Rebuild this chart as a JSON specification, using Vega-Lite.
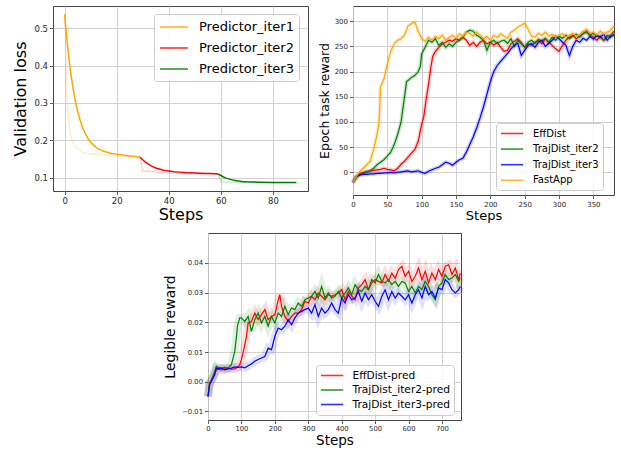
{
"$schema": "https://vega.github.io/schema/vega-lite/v6.json",
"padding": {"left": 12, "top": 5, "right": 2, "bottom": 2},
"background": "white",
"config": {
  "font": "DejaVu Sans",
  "view": {"stroke": "#444", "strokeWidth": 1},
  "axis": {"grid": true, "gridColor": "#cccccc", "gridWidth": 0.9, "domain": false, "tickColor": "#333", "tickSize": 3.5, "tickWidth": 0.8, "labelColor": "#262626", "titleColor": "#000", "titleFontWeight": "normal", "labelFont": "DejaVu Sans", "titleFont": "DejaVu Sans", "labelFlush": false, "labelOverlap": false},
  "legend": {"title": null, "orient": "none", "symbolType": "M-1,0H3", "fillColor": "rgba(255,255,255,0.85)", "strokeColor": "#cccccc", "cornerRadius": 3, "labelFont": "DejaVu Sans", "labelColor": "#000", "symbolStrokeWidth": 1.6, "symbolOpacity": 0.8}
},
"datasets": {
"p1": [
{"s":"Predictor_iter1","k":"raw","x":0,"y":0.537},{"s":"Predictor_iter1","k":"raw","x":1,"y":0.29},{"s":"Predictor_iter1","k":"raw","x":2,"y":0.225},{"s":"Predictor_iter1","k":"raw","x":3,"y":0.198},{"s":"Predictor_iter1","k":"raw","x":4,"y":0.185},{"s":"Predictor_iter1","k":"raw","x":5,"y":0.178},{"s":"Predictor_iter1","k":"raw","x":6,"y":0.172},{"s":"Predictor_iter1","k":"raw","x":7,"y":0.168},{"s":"Predictor_iter1","k":"raw","x":8,"y":0.166},{"s":"Predictor_iter1","k":"raw","x":9,"y":0.164},{"s":"Predictor_iter1","k":"raw","x":10,"y":0.163},{"s":"Predictor_iter1","k":"raw","x":11,"y":0.164},{"s":"Predictor_iter1","k":"raw","x":12,"y":0.162},{"s":"Predictor_iter1","k":"raw","x":13,"y":0.165},{"s":"Predictor_iter1","k":"raw","x":14,"y":0.161},{"s":"Predictor_iter1","k":"raw","x":15,"y":0.16},{"s":"Predictor_iter1","k":"raw","x":16,"y":0.161},{"s":"Predictor_iter1","k":"raw","x":17,"y":0.159},{"s":"Predictor_iter1","k":"raw","x":18,"y":0.16},{"s":"Predictor_iter1","k":"raw","x":19,"y":0.158},{"s":"Predictor_iter1","k":"raw","x":20,"y":0.159},{"s":"Predictor_iter1","k":"raw","x":21,"y":0.158},{"s":"Predictor_iter1","k":"raw","x":22,"y":0.157},{"s":"Predictor_iter1","k":"raw","x":23,"y":0.158},{"s":"Predictor_iter1","k":"raw","x":24,"y":0.156},{"s":"Predictor_iter1","k":"raw","x":25,"y":0.157},{"s":"Predictor_iter1","k":"raw","x":26,"y":0.156},{"s":"Predictor_iter1","k":"raw","x":27,"y":0.155},{"s":"Predictor_iter1","k":"raw","x":28,"y":0.155},{"s":"Predictor_iter1","k":"raw","x":29,"y":0.155},
{"s":"Predictor_iter2","k":"raw","x":29,"y":0.155},{"s":"Predictor_iter2","k":"raw","x":30,"y":0.118},{"s":"Predictor_iter2","k":"raw","x":31,"y":0.117},{"s":"Predictor_iter2","k":"raw","x":32,"y":0.119},{"s":"Predictor_iter2","k":"raw","x":33,"y":0.116},{"s":"Predictor_iter2","k":"raw","x":34,"y":0.117},{"s":"Predictor_iter2","k":"raw","x":35,"y":0.115},{"s":"Predictor_iter2","k":"raw","x":36,"y":0.114},{"s":"Predictor_iter2","k":"raw","x":37,"y":0.115},{"s":"Predictor_iter2","k":"raw","x":38,"y":0.113},{"s":"Predictor_iter2","k":"raw","x":40,"y":0.113},{"s":"Predictor_iter2","k":"raw","x":42,"y":0.112},{"s":"Predictor_iter2","k":"raw","x":44,"y":0.112},{"s":"Predictor_iter2","k":"raw","x":46,"y":0.111},{"s":"Predictor_iter2","k":"raw","x":48,"y":0.111},{"s":"Predictor_iter2","k":"raw","x":50,"y":0.111},{"s":"Predictor_iter2","k":"raw","x":52,"y":0.110},{"s":"Predictor_iter2","k":"raw","x":54,"y":0.110},{"s":"Predictor_iter2","k":"raw","x":55,"y":0.112},{"s":"Predictor_iter2","k":"raw","x":56,"y":0.110},{"s":"Predictor_iter2","k":"raw","x":58,"y":0.110},{"s":"Predictor_iter2","k":"raw","x":59,"y":0.110},
{"s":"Predictor_iter3","k":"raw","x":59,"y":0.110},{"s":"Predictor_iter3","k":"raw","x":60,"y":0.089},{"s":"Predictor_iter3","k":"raw","x":62,"y":0.088},{"s":"Predictor_iter3","k":"raw","x":65,"y":0.088},{"s":"Predictor_iter3","k":"raw","x":70,"y":0.087},{"s":"Predictor_iter3","k":"raw","x":75,"y":0.087},{"s":"Predictor_iter3","k":"raw","x":80,"y":0.087},{"s":"Predictor_iter3","k":"raw","x":85,"y":0.0868},{"s":"Predictor_iter3","k":"raw","x":89,"y":0.0868},
{"s":"Predictor_iter1","k":"sm","x":0,"y":0.537},{"s":"Predictor_iter1","k":"sm","x":1,"y":0.462},{"s":"Predictor_iter1","k":"sm","x":2,"y":0.400},{"s":"Predictor_iter1","k":"sm","x":3,"y":0.350},{"s":"Predictor_iter1","k":"sm","x":4,"y":0.310},{"s":"Predictor_iter1","k":"sm","x":5,"y":0.278},{"s":"Predictor_iter1","k":"sm","x":6,"y":0.253},{"s":"Predictor_iter1","k":"sm","x":7,"y":0.233},{"s":"Predictor_iter1","k":"sm","x":8,"y":0.217},{"s":"Predictor_iter1","k":"sm","x":9,"y":0.205},{"s":"Predictor_iter1","k":"sm","x":10,"y":0.195},{"s":"Predictor_iter1","k":"sm","x":11,"y":0.188},{"s":"Predictor_iter1","k":"sm","x":12,"y":0.182},{"s":"Predictor_iter1","k":"sm","x":13,"y":0.177},{"s":"Predictor_iter1","k":"sm","x":14,"y":0.174},{"s":"Predictor_iter1","k":"sm","x":15,"y":0.171},{"s":"Predictor_iter1","k":"sm","x":16,"y":0.169},{"s":"Predictor_iter1","k":"sm","x":17,"y":0.167},{"s":"Predictor_iter1","k":"sm","x":18,"y":0.165},{"s":"Predictor_iter1","k":"sm","x":19,"y":0.164},{"s":"Predictor_iter1","k":"sm","x":20,"y":0.163},{"s":"Predictor_iter1","k":"sm","x":21,"y":0.162},{"s":"Predictor_iter1","k":"sm","x":22,"y":0.161},{"s":"Predictor_iter1","k":"sm","x":23,"y":0.160},{"s":"Predictor_iter1","k":"sm","x":24,"y":0.159},{"s":"Predictor_iter1","k":"sm","x":25,"y":0.158},{"s":"Predictor_iter1","k":"sm","x":26,"y":0.158},{"s":"Predictor_iter1","k":"sm","x":27,"y":0.157},{"s":"Predictor_iter1","k":"sm","x":28,"y":0.156},{"s":"Predictor_iter1","k":"sm","x":29,"y":0.155},
{"s":"Predictor_iter2","k":"sm","x":29,"y":0.155},{"s":"Predictor_iter2","k":"sm","x":30,"y":0.148},{"s":"Predictor_iter2","k":"sm","x":31,"y":0.142},{"s":"Predictor_iter2","k":"sm","x":32,"y":0.137},{"s":"Predictor_iter2","k":"sm","x":33,"y":0.133},{"s":"Predictor_iter2","k":"sm","x":34,"y":0.129},{"s":"Predictor_iter2","k":"sm","x":35,"y":0.126},{"s":"Predictor_iter2","k":"sm","x":36,"y":0.124},{"s":"Predictor_iter2","k":"sm","x":37,"y":0.122},{"s":"Predictor_iter2","k":"sm","x":38,"y":0.120},{"s":"Predictor_iter2","k":"sm","x":39,"y":0.119},{"s":"Predictor_iter2","k":"sm","x":40,"y":0.118},{"s":"Predictor_iter2","k":"sm","x":42,"y":0.116},{"s":"Predictor_iter2","k":"sm","x":44,"y":0.115},{"s":"Predictor_iter2","k":"sm","x":46,"y":0.114},{"s":"Predictor_iter2","k":"sm","x":48,"y":0.113},{"s":"Predictor_iter2","k":"sm","x":50,"y":0.1125},{"s":"Predictor_iter2","k":"sm","x":52,"y":0.112},{"s":"Predictor_iter2","k":"sm","x":54,"y":0.1115},{"s":"Predictor_iter2","k":"sm","x":56,"y":0.111},{"s":"Predictor_iter2","k":"sm","x":58,"y":0.1105},{"s":"Predictor_iter2","k":"sm","x":59,"y":0.110},
{"s":"Predictor_iter3","k":"sm","x":59,"y":0.110},{"s":"Predictor_iter3","k":"sm","x":60,"y":0.106},{"s":"Predictor_iter3","k":"sm","x":61,"y":0.102},{"s":"Predictor_iter3","k":"sm","x":62,"y":0.099},{"s":"Predictor_iter3","k":"sm","x":63,"y":0.097},{"s":"Predictor_iter3","k":"sm","x":64,"y":0.095},{"s":"Predictor_iter3","k":"sm","x":65,"y":0.093},{"s":"Predictor_iter3","k":"sm","x":66,"y":0.092},{"s":"Predictor_iter3","k":"sm","x":67,"y":0.091},{"s":"Predictor_iter3","k":"sm","x":68,"y":0.090},{"s":"Predictor_iter3","k":"sm","x":70,"y":0.089},{"s":"Predictor_iter3","k":"sm","x":72,"y":0.0885},{"s":"Predictor_iter3","k":"sm","x":75,"y":0.088},{"s":"Predictor_iter3","k":"sm","x":80,"y":0.0875},{"s":"Predictor_iter3","k":"sm","x":85,"y":0.087},{"s":"Predictor_iter3","k":"sm","x":89,"y":0.087}
],
"p2": [
{"s":"EffDist","x":0,"y":-20},{"s":"EffDist","x":5,"y":-8},{"s":"EffDist","x":10,"y":-2},{"s":"EffDist","x":15,"y":0},{"s":"EffDist","x":20,"y":2},{"s":"EffDist","x":25,"y":3},{"s":"EffDist","x":30,"y":4},{"s":"EffDist","x":35,"y":5},{"s":"EffDist","x":40,"y":6},{"s":"EffDist","x":45,"y":8},{"s":"EffDist","x":50,"y":6},{"s":"EffDist","x":55,"y":5},{"s":"EffDist","x":60,"y":3},{"s":"EffDist","x":65,"y":8},{"s":"EffDist","x":70,"y":16},{"s":"EffDist","x":75,"y":22},{"s":"EffDist","x":80,"y":30},{"s":"EffDist","x":85,"y":38},{"s":"EffDist","x":90,"y":45},{"s":"EffDist","x":95,"y":62},{"s":"EffDist","x":100,"y":95},{"s":"EffDist","x":103,"y":110},{"s":"EffDist","x":106,"y":140},{"s":"EffDist","x":110,"y":175},{"s":"EffDist","x":113,"y":205},{"s":"EffDist","x":116,"y":230},{"s":"EffDist","x":120,"y":240},{"s":"EffDist","x":125,"y":248},{"s":"EffDist","x":130,"y":255},{"s":"EffDist","x":135,"y":258},{"s":"EffDist","x":140,"y":262},{"s":"EffDist","x":145,"y":260},{"s":"EffDist","x":150,"y":265},{"s":"EffDist","x":155,"y":262},{"s":"EffDist","x":160,"y":268},{"s":"EffDist","x":165,"y":262},{"s":"EffDist","x":170,"y":252},{"s":"EffDist","x":175,"y":258},{"s":"EffDist","x":180,"y":250},{"s":"EffDist","x":185,"y":258},{"s":"EffDist","x":190,"y":262},{"s":"EffDist","x":195,"y":255},{"s":"EffDist","x":200,"y":258},{"s":"EffDist","x":205,"y":252},{"s":"EffDist","x":210,"y":258},{"s":"EffDist","x":215,"y":248},{"s":"EffDist","x":220,"y":240},{"s":"EffDist","x":225,"y":242},{"s":"EffDist","x":230,"y":255},{"s":"EffDist","x":235,"y":260},{"s":"EffDist","x":240,"y":265},{"s":"EffDist","x":245,"y":258},{"s":"EffDist","x":250,"y":248},{"s":"EffDist","x":255,"y":255},{"s":"EffDist","x":260,"y":252},{"s":"EffDist","x":265,"y":258},{"s":"EffDist","x":270,"y":262},{"s":"EffDist","x":275,"y":255},{"s":"EffDist","x":280,"y":265},{"s":"EffDist","x":285,"y":258},{"s":"EffDist","x":290,"y":252},{"s":"EffDist","x":295,"y":245},{"s":"EffDist","x":300,"y":240},{"s":"EffDist","x":305,"y":252},{"s":"EffDist","x":310,"y":262},{"s":"EffDist","x":315,"y":268},{"s":"EffDist","x":320,"y":272},{"s":"EffDist","x":325,"y":265},{"s":"EffDist","x":330,"y":270},{"s":"EffDist","x":335,"y":275},{"s":"EffDist","x":340,"y":280},{"s":"EffDist","x":345,"y":272},{"s":"EffDist","x":350,"y":268},{"s":"EffDist","x":355,"y":262},{"s":"EffDist","x":360,"y":270},{"s":"EffDist","x":365,"y":262},{"s":"EffDist","x":370,"y":268},{"s":"EffDist","x":375,"y":272},{"s":"EffDist","x":380,"y":280},
{"s":"TrajDist_iter2","x":0,"y":-20},{"s":"TrajDist_iter2","x":5,"y":-10},{"s":"TrajDist_iter2","x":10,"y":-5},{"s":"TrajDist_iter2","x":15,"y":-2},{"s":"TrajDist_iter2","x":20,"y":0},{"s":"TrajDist_iter2","x":25,"y":3},{"s":"TrajDist_iter2","x":30,"y":8},{"s":"TrajDist_iter2","x":35,"y":15},{"s":"TrajDist_iter2","x":40,"y":20},{"s":"TrajDist_iter2","x":45,"y":25},{"s":"TrajDist_iter2","x":50,"y":32},{"s":"TrajDist_iter2","x":55,"y":40},{"s":"TrajDist_iter2","x":60,"y":55},{"s":"TrajDist_iter2","x":65,"y":75},{"s":"TrajDist_iter2","x":70,"y":100},{"s":"TrajDist_iter2","x":72,"y":120},{"s":"TrajDist_iter2","x":75,"y":150},{"s":"TrajDist_iter2","x":78,"y":180},{"s":"TrajDist_iter2","x":80,"y":182},{"s":"TrajDist_iter2","x":85,"y":188},{"s":"TrajDist_iter2","x":90,"y":192},{"s":"TrajDist_iter2","x":95,"y":200},{"s":"TrajDist_iter2","x":98,"y":210},{"s":"TrajDist_iter2","x":100,"y":235},{"s":"TrajDist_iter2","x":105,"y":248},{"s":"TrajDist_iter2","x":110,"y":262},{"s":"TrajDist_iter2","x":115,"y":258},{"s":"TrajDist_iter2","x":120,"y":265},{"s":"TrajDist_iter2","x":125,"y":252},{"s":"TrajDist_iter2","x":130,"y":258},{"s":"TrajDist_iter2","x":135,"y":248},{"s":"TrajDist_iter2","x":140,"y":255},{"s":"TrajDist_iter2","x":145,"y":250},{"s":"TrajDist_iter2","x":150,"y":258},{"s":"TrajDist_iter2","x":155,"y":262},{"s":"TrajDist_iter2","x":160,"y":268},{"s":"TrajDist_iter2","x":165,"y":278},{"s":"TrajDist_iter2","x":170,"y":282},{"s":"TrajDist_iter2","x":175,"y":280},{"s":"TrajDist_iter2","x":180,"y":272},{"s":"TrajDist_iter2","x":185,"y":268},{"s":"TrajDist_iter2","x":190,"y":262},{"s":"TrajDist_iter2","x":195,"y":242},{"s":"TrajDist_iter2","x":200,"y":258},{"s":"TrajDist_iter2","x":205,"y":262},{"s":"TrajDist_iter2","x":210,"y":255},{"s":"TrajDist_iter2","x":215,"y":260},{"s":"TrajDist_iter2","x":220,"y":262},{"s":"TrajDist_iter2","x":225,"y":256},{"s":"TrajDist_iter2","x":230,"y":265},{"s":"TrajDist_iter2","x":235,"y":250},{"s":"TrajDist_iter2","x":240,"y":262},{"s":"TrajDist_iter2","x":245,"y":255},{"s":"TrajDist_iter2","x":250,"y":248},{"s":"TrajDist_iter2","x":255,"y":258},{"s":"TrajDist_iter2","x":260,"y":262},{"s":"TrajDist_iter2","x":265,"y":256},{"s":"TrajDist_iter2","x":270,"y":264},{"s":"TrajDist_iter2","x":275,"y":260},{"s":"TrajDist_iter2","x":280,"y":266},{"s":"TrajDist_iter2","x":285,"y":258},{"s":"TrajDist_iter2","x":290,"y":268},{"s":"TrajDist_iter2","x":295,"y":262},{"s":"TrajDist_iter2","x":300,"y":270},{"s":"TrajDist_iter2","x":305,"y":266},{"s":"TrajDist_iter2","x":310,"y":272},{"s":"TrajDist_iter2","x":315,"y":265},{"s":"TrajDist_iter2","x":320,"y":270},{"s":"TrajDist_iter2","x":325,"y":274},{"s":"TrajDist_iter2","x":330,"y":268},{"s":"TrajDist_iter2","x":335,"y":276},{"s":"TrajDist_iter2","x":340,"y":278},{"s":"TrajDist_iter2","x":345,"y":272},{"s":"TrajDist_iter2","x":350,"y":276},{"s":"TrajDist_iter2","x":355,"y":270},{"s":"TrajDist_iter2","x":360,"y":268},{"s":"TrajDist_iter2","x":365,"y":262},{"s":"TrajDist_iter2","x":370,"y":272},{"s":"TrajDist_iter2","x":375,"y":268},{"s":"TrajDist_iter2","x":380,"y":275},
{"s":"TrajDist_iter3","x":0,"y":-20},{"s":"TrajDist_iter3","x":5,"y":-8},{"s":"TrajDist_iter3","x":10,"y":-5},{"s":"TrajDist_iter3","x":15,"y":-4},{"s":"TrajDist_iter3","x":20,"y":-4},{"s":"TrajDist_iter3","x":25,"y":-3},{"s":"TrajDist_iter3","x":30,"y":-3},{"s":"TrajDist_iter3","x":35,"y":-2},{"s":"TrajDist_iter3","x":40,"y":-2},{"s":"TrajDist_iter3","x":45,"y":-1},{"s":"TrajDist_iter3","x":50,"y":-1},{"s":"TrajDist_iter3","x":55,"y":0},{"s":"TrajDist_iter3","x":60,"y":-1},{"s":"TrajDist_iter3","x":65,"y":0},{"s":"TrajDist_iter3","x":70,"y":1},{"s":"TrajDist_iter3","x":75,"y":2},{"s":"TrajDist_iter3","x":80,"y":3},{"s":"TrajDist_iter3","x":85,"y":1},{"s":"TrajDist_iter3","x":90,"y":2},{"s":"TrajDist_iter3","x":95,"y":3},{"s":"TrajDist_iter3","x":100,"y":0},{"s":"TrajDist_iter3","x":105,"y":-2},{"s":"TrajDist_iter3","x":110,"y":2},{"s":"TrajDist_iter3","x":115,"y":5},{"s":"TrajDist_iter3","x":120,"y":8},{"s":"TrajDist_iter3","x":125,"y":10},{"s":"TrajDist_iter3","x":130,"y":15},{"s":"TrajDist_iter3","x":135,"y":20},{"s":"TrajDist_iter3","x":140,"y":18},{"s":"TrajDist_iter3","x":145,"y":14},{"s":"TrajDist_iter3","x":150,"y":20},{"s":"TrajDist_iter3","x":155,"y":25},{"s":"TrajDist_iter3","x":160,"y":28},{"s":"TrajDist_iter3","x":165,"y":40},{"s":"TrajDist_iter3","x":170,"y":55},{"s":"TrajDist_iter3","x":175,"y":70},{"s":"TrajDist_iter3","x":180,"y":88},{"s":"TrajDist_iter3","x":185,"y":108},{"s":"TrajDist_iter3","x":190,"y":130},{"s":"TrajDist_iter3","x":195,"y":155},{"s":"TrajDist_iter3","x":200,"y":180},{"s":"TrajDist_iter3","x":205,"y":200},{"s":"TrajDist_iter3","x":210,"y":212},{"s":"TrajDist_iter3","x":215,"y":220},{"s":"TrajDist_iter3","x":220,"y":228},{"s":"TrajDist_iter3","x":225,"y":236},{"s":"TrajDist_iter3","x":230,"y":245},{"s":"TrajDist_iter3","x":235,"y":252},{"s":"TrajDist_iter3","x":240,"y":256},{"s":"TrajDist_iter3","x":245,"y":232},{"s":"TrajDist_iter3","x":250,"y":242},{"s":"TrajDist_iter3","x":255,"y":252},{"s":"TrajDist_iter3","x":260,"y":255},{"s":"TrajDist_iter3","x":265,"y":248},{"s":"TrajDist_iter3","x":270,"y":258},{"s":"TrajDist_iter3","x":275,"y":262},{"s":"TrajDist_iter3","x":280,"y":250},{"s":"TrajDist_iter3","x":285,"y":256},{"s":"TrajDist_iter3","x":290,"y":262},{"s":"TrajDist_iter3","x":295,"y":270},{"s":"TrajDist_iter3","x":300,"y":265},{"s":"TrajDist_iter3","x":305,"y":258},{"s":"TrajDist_iter3","x":310,"y":252},{"s":"TrajDist_iter3","x":315,"y":232},{"s":"TrajDist_iter3","x":320,"y":250},{"s":"TrajDist_iter3","x":325,"y":262},{"s":"TrajDist_iter3","x":330,"y":258},{"s":"TrajDist_iter3","x":335,"y":266},{"s":"TrajDist_iter3","x":340,"y":262},{"s":"TrajDist_iter3","x":345,"y":270},{"s":"TrajDist_iter3","x":350,"y":264},{"s":"TrajDist_iter3","x":355,"y":272},{"s":"TrajDist_iter3","x":360,"y":268},{"s":"TrajDist_iter3","x":365,"y":274},{"s":"TrajDist_iter3","x":370,"y":262},{"s":"TrajDist_iter3","x":375,"y":270},{"s":"TrajDist_iter3","x":380,"y":272},
{"s":"FastApp","x":0,"y":-20},{"s":"FastApp","x":5,"y":-8},{"s":"FastApp","x":10,"y":2},{"s":"FastApp","x":15,"y":8},{"s":"FastApp","x":20,"y":15},{"s":"FastApp","x":25,"y":22},{"s":"FastApp","x":30,"y":45},{"s":"FastApp","x":35,"y":75},{"s":"FastApp","x":38,"y":100},{"s":"FastApp","x":40,"y":170},{"s":"FastApp","x":45,"y":185},{"s":"FastApp","x":50,"y":215},{"s":"FastApp","x":55,"y":240},{"s":"FastApp","x":60,"y":255},{"s":"FastApp","x":65,"y":262},{"s":"FastApp","x":70,"y":265},{"s":"FastApp","x":75,"y":272},{"s":"FastApp","x":80,"y":290},{"s":"FastApp","x":85,"y":295},{"s":"FastApp","x":90,"y":298},{"s":"FastApp","x":95,"y":280},{"s":"FastApp","x":100,"y":265},{"s":"FastApp","x":105,"y":260},{"s":"FastApp","x":110,"y":268},{"s":"FastApp","x":115,"y":262},{"s":"FastApp","x":120,"y":270},{"s":"FastApp","x":125,"y":265},{"s":"FastApp","x":130,"y":272},{"s":"FastApp","x":135,"y":262},{"s":"FastApp","x":140,"y":268},{"s":"FastApp","x":145,"y":272},{"s":"FastApp","x":150,"y":266},{"s":"FastApp","x":155,"y":275},{"s":"FastApp","x":160,"y":270},{"s":"FastApp","x":165,"y":278},{"s":"FastApp","x":170,"y":276},{"s":"FastApp","x":175,"y":270},{"s":"FastApp","x":180,"y":278},{"s":"FastApp","x":185,"y":272},{"s":"FastApp","x":190,"y":265},{"s":"FastApp","x":195,"y":270},{"s":"FastApp","x":200,"y":262},{"s":"FastApp","x":205,"y":272},{"s":"FastApp","x":210,"y":268},{"s":"FastApp","x":215,"y":275},{"s":"FastApp","x":220,"y":270},{"s":"FastApp","x":225,"y":266},{"s":"FastApp","x":230,"y":278},{"s":"FastApp","x":235,"y":282},{"s":"FastApp","x":240,"y":288},{"s":"FastApp","x":245,"y":292},{"s":"FastApp","x":250,"y":296},{"s":"FastApp","x":255,"y":284},{"s":"FastApp","x":260,"y":270},{"s":"FastApp","x":265,"y":268},{"s":"FastApp","x":270,"y":276},{"s":"FastApp","x":275,"y":272},{"s":"FastApp","x":280,"y":278},{"s":"FastApp","x":285,"y":270},{"s":"FastApp","x":290,"y":274},{"s":"FastApp","x":295,"y":268},{"s":"FastApp","x":300,"y":272},{"s":"FastApp","x":305,"y":275},{"s":"FastApp","x":310,"y":268},{"s":"FastApp","x":315,"y":272},{"s":"FastApp","x":320,"y":276},{"s":"FastApp","x":325,"y":270},{"s":"FastApp","x":330,"y":274},{"s":"FastApp","x":335,"y":280},{"s":"FastApp","x":340,"y":284},{"s":"FastApp","x":345,"y":276},{"s":"FastApp","x":350,"y":278},{"s":"FastApp","x":355,"y":272},{"s":"FastApp","x":360,"y":280},{"s":"FastApp","x":365,"y":274},{"s":"FastApp","x":370,"y":278},{"s":"FastApp","x":375,"y":282},{"s":"FastApp","x":380,"y":290}
],
"p3": [
{"s":"EffDist-pred","x":0,"y":-0.005},{"s":"EffDist-pred","x":5,"y":-0.0005},{"s":"EffDist-pred","x":10,"y":0.0005},{"s":"EffDist-pred","x":15,"y":0.0015},{"s":"EffDist-pred","x":20,"y":0.0025},{"s":"EffDist-pred","x":25,"y":0.004},{"s":"EffDist-pred","x":30,"y":0.0042},{"s":"EffDist-pred","x":40,"y":0.004},{"s":"EffDist-pred","x":50,"y":0.0043},{"s":"EffDist-pred","x":60,"y":0.0046},{"s":"EffDist-pred","x":70,"y":0.0042},{"s":"EffDist-pred","x":80,"y":0.0043},{"s":"EffDist-pred","x":90,"y":0.005},{"s":"EffDist-pred","x":95,"y":0.0057},{"s":"EffDist-pred","x":100,"y":0.0075},{"s":"EffDist-pred","x":105,"y":0.0097},{"s":"EffDist-pred","x":110,"y":0.0125},{"s":"EffDist-pred","x":115,"y":0.0153},{"s":"EffDist-pred","x":120,"y":0.0198},{"s":"EffDist-pred","x":130,"y":0.0203},{"s":"EffDist-pred","x":140,"y":0.0231},{"s":"EffDist-pred","x":150,"y":0.0209},{"s":"EffDist-pred","x":160,"y":0.0226},{"s":"EffDist-pred","x":170,"y":0.0243},{"s":"EffDist-pred","x":180,"y":0.0209},{"s":"EffDist-pred","x":190,"y":0.022},{"s":"EffDist-pred","x":200,"y":0.0226},{"s":"EffDist-pred","x":210,"y":0.0276},{"s":"EffDist-pred","x":215,"y":0.0293},{"s":"EffDist-pred","x":220,"y":0.0254},{"s":"EffDist-pred","x":230,"y":0.022},{"s":"EffDist-pred","x":240,"y":0.0203},{"s":"EffDist-pred","x":250,"y":0.022},{"s":"EffDist-pred","x":260,"y":0.0231},{"s":"EffDist-pred","x":270,"y":0.0231},{"s":"EffDist-pred","x":280,"y":0.0243},{"s":"EffDist-pred","x":290,"y":0.0271},{"s":"EffDist-pred","x":300,"y":0.0265},{"s":"EffDist-pred","x":310,"y":0.0288},{"s":"EffDist-pred","x":320,"y":0.0276},{"s":"EffDist-pred","x":330,"y":0.0299},{"s":"EffDist-pred","x":340,"y":0.0288},{"s":"EffDist-pred","x":350,"y":0.0276},{"s":"EffDist-pred","x":360,"y":0.0293},{"s":"EffDist-pred","x":370,"y":0.0288},{"s":"EffDist-pred","x":380,"y":0.0293},{"s":"EffDist-pred","x":390,"y":0.0299},{"s":"EffDist-pred","x":400,"y":0.031},{"s":"EffDist-pred","x":410,"y":0.0276},{"s":"EffDist-pred","x":420,"y":0.0304},{"s":"EffDist-pred","x":430,"y":0.0288},{"s":"EffDist-pred","x":440,"y":0.0276},{"s":"EffDist-pred","x":450,"y":0.0316},{"s":"EffDist-pred","x":460,"y":0.0327},{"s":"EffDist-pred","x":470,"y":0.0344},{"s":"EffDist-pred","x":480,"y":0.031},{"s":"EffDist-pred","x":490,"y":0.0333},{"s":"EffDist-pred","x":500,"y":0.0344},{"s":"EffDist-pred","x":510,"y":0.0338},{"s":"EffDist-pred","x":520,"y":0.0333},{"s":"EffDist-pred","x":530,"y":0.0361},{"s":"EffDist-pred","x":540,"y":0.0338},{"s":"EffDist-pred","x":550,"y":0.0366},{"s":"EffDist-pred","x":560,"y":0.0349},{"s":"EffDist-pred","x":570,"y":0.0378},{"s":"EffDist-pred","x":580,"y":0.0389},{"s":"EffDist-pred","x":590,"y":0.0355},{"s":"EffDist-pred","x":600,"y":0.0372},{"s":"EffDist-pred","x":610,"y":0.0338},{"s":"EffDist-pred","x":620,"y":0.0355},{"s":"EffDist-pred","x":630,"y":0.0383},{"s":"EffDist-pred","x":640,"y":0.0344},{"s":"EffDist-pred","x":650,"y":0.0372},{"s":"EffDist-pred","x":660,"y":0.0333},{"s":"EffDist-pred","x":670,"y":0.0366},{"s":"EffDist-pred","x":680,"y":0.0344},{"s":"EffDist-pred","x":690,"y":0.0378},{"s":"EffDist-pred","x":700,"y":0.0355},{"s":"EffDist-pred","x":710,"y":0.0389},{"s":"EffDist-pred","x":720,"y":0.0394},{"s":"EffDist-pred","x":730,"y":0.0361},{"s":"EffDist-pred","x":740,"y":0.0383},{"s":"EffDist-pred","x":750,"y":0.0344},{"s":"EffDist-pred","x":755,"y":0.0366},
{"s":"TrajDist_iter2-pred","x":0,"y":-0.005},{"s":"TrajDist_iter2-pred","x":5,"y":-0.0005},{"s":"TrajDist_iter2-pred","x":10,"y":0.0005},{"s":"TrajDist_iter2-pred","x":15,"y":0.002},{"s":"TrajDist_iter2-pred","x":20,"y":0.0035},{"s":"TrajDist_iter2-pred","x":25,"y":0.0052},{"s":"TrajDist_iter2-pred","x":30,"y":0.0048},{"s":"TrajDist_iter2-pred","x":40,"y":0.0046},{"s":"TrajDist_iter2-pred","x":50,"y":0.0048},{"s":"TrajDist_iter2-pred","x":60,"y":0.0046},{"s":"TrajDist_iter2-pred","x":70,"y":0.0057},{"s":"TrajDist_iter2-pred","x":80,"y":0.0102},{"s":"TrajDist_iter2-pred","x":85,"y":0.015},{"s":"TrajDist_iter2-pred","x":88,"y":0.0187},{"s":"TrajDist_iter2-pred","x":95,"y":0.0215},{"s":"TrajDist_iter2-pred","x":100,"y":0.0215},{"s":"TrajDist_iter2-pred","x":110,"y":0.0203},{"s":"TrajDist_iter2-pred","x":120,"y":0.022},{"s":"TrajDist_iter2-pred","x":130,"y":0.017},{"s":"TrajDist_iter2-pred","x":140,"y":0.0209},{"s":"TrajDist_iter2-pred","x":150,"y":0.0231},{"s":"TrajDist_iter2-pred","x":160,"y":0.0198},{"s":"TrajDist_iter2-pred","x":170,"y":0.022},{"s":"TrajDist_iter2-pred","x":180,"y":0.0187},{"s":"TrajDist_iter2-pred","x":190,"y":0.022},{"s":"TrajDist_iter2-pred","x":200,"y":0.0198},{"s":"TrajDist_iter2-pred","x":210,"y":0.0231},{"s":"TrajDist_iter2-pred","x":220,"y":0.022},{"s":"TrajDist_iter2-pred","x":230,"y":0.0254},{"s":"TrajDist_iter2-pred","x":240,"y":0.0226},{"s":"TrajDist_iter2-pred","x":250,"y":0.0248},{"s":"TrajDist_iter2-pred","x":260,"y":0.0243},{"s":"TrajDist_iter2-pred","x":270,"y":0.0265},{"s":"TrajDist_iter2-pred","x":280,"y":0.0254},{"s":"TrajDist_iter2-pred","x":290,"y":0.0276},{"s":"TrajDist_iter2-pred","x":300,"y":0.0282},{"s":"TrajDist_iter2-pred","x":310,"y":0.0288},{"s":"TrajDist_iter2-pred","x":320,"y":0.0304},{"s":"TrajDist_iter2-pred","x":330,"y":0.0282},{"s":"TrajDist_iter2-pred","x":340,"y":0.0321},{"s":"TrajDist_iter2-pred","x":350,"y":0.0282},{"s":"TrajDist_iter2-pred","x":360,"y":0.0299},{"s":"TrajDist_iter2-pred","x":370,"y":0.0282},{"s":"TrajDist_iter2-pred","x":380,"y":0.0288},{"s":"TrajDist_iter2-pred","x":390,"y":0.0304},{"s":"TrajDist_iter2-pred","x":400,"y":0.0282},{"s":"TrajDist_iter2-pred","x":410,"y":0.0299},{"s":"TrajDist_iter2-pred","x":420,"y":0.0316},{"s":"TrajDist_iter2-pred","x":430,"y":0.0293},{"s":"TrajDist_iter2-pred","x":440,"y":0.0327},{"s":"TrajDist_iter2-pred","x":450,"y":0.031},{"s":"TrajDist_iter2-pred","x":460,"y":0.0304},{"s":"TrajDist_iter2-pred","x":470,"y":0.0321},{"s":"TrajDist_iter2-pred","x":480,"y":0.031},{"s":"TrajDist_iter2-pred","x":490,"y":0.0344},{"s":"TrajDist_iter2-pred","x":500,"y":0.0333},{"s":"TrajDist_iter2-pred","x":510,"y":0.0361},{"s":"TrajDist_iter2-pred","x":520,"y":0.0338},{"s":"TrajDist_iter2-pred","x":530,"y":0.0333},{"s":"TrajDist_iter2-pred","x":540,"y":0.0344},{"s":"TrajDist_iter2-pred","x":550,"y":0.0327},{"s":"TrajDist_iter2-pred","x":560,"y":0.0338},{"s":"TrajDist_iter2-pred","x":570,"y":0.0321},{"s":"TrajDist_iter2-pred","x":580,"y":0.0338},{"s":"TrajDist_iter2-pred","x":590,"y":0.0333},{"s":"TrajDist_iter2-pred","x":600,"y":0.0304},{"s":"TrajDist_iter2-pred","x":610,"y":0.0321},{"s":"TrajDist_iter2-pred","x":620,"y":0.0299},{"s":"TrajDist_iter2-pred","x":630,"y":0.0321},{"s":"TrajDist_iter2-pred","x":640,"y":0.031},{"s":"TrajDist_iter2-pred","x":650,"y":0.0338},{"s":"TrajDist_iter2-pred","x":660,"y":0.0321},{"s":"TrajDist_iter2-pred","x":670,"y":0.0293},{"s":"TrajDist_iter2-pred","x":680,"y":0.0276},{"s":"TrajDist_iter2-pred","x":690,"y":0.0321},{"s":"TrajDist_iter2-pred","x":700,"y":0.0333},{"s":"TrajDist_iter2-pred","x":710,"y":0.0361},{"s":"TrajDist_iter2-pred","x":720,"y":0.0344},{"s":"TrajDist_iter2-pred","x":730,"y":0.0349},{"s":"TrajDist_iter2-pred","x":740,"y":0.0361},{"s":"TrajDist_iter2-pred","x":750,"y":0.0338},{"s":"TrajDist_iter2-pred","x":755,"y":0.035},
{"s":"TrajDist_iter3-pred","x":0,"y":-0.0049},{"s":"TrajDist_iter3-pred","x":5,"y":-0.001},{"s":"TrajDist_iter3-pred","x":10,"y":0.0001},{"s":"TrajDist_iter3-pred","x":15,"y":0.0012},{"s":"TrajDist_iter3-pred","x":20,"y":0.0024},{"s":"TrajDist_iter3-pred","x":25,"y":0.0046},{"s":"TrajDist_iter3-pred","x":30,"y":0.0044},{"s":"TrajDist_iter3-pred","x":40,"y":0.0046},{"s":"TrajDist_iter3-pred","x":50,"y":0.004},{"s":"TrajDist_iter3-pred","x":60,"y":0.0043},{"s":"TrajDist_iter3-pred","x":70,"y":0.0046},{"s":"TrajDist_iter3-pred","x":80,"y":0.005},{"s":"TrajDist_iter3-pred","x":90,"y":0.0048},{"s":"TrajDist_iter3-pred","x":100,"y":0.005},{"s":"TrajDist_iter3-pred","x":110,"y":0.0047},{"s":"TrajDist_iter3-pred","x":120,"y":0.0054},{"s":"TrajDist_iter3-pred","x":130,"y":0.006},{"s":"TrajDist_iter3-pred","x":140,"y":0.0069},{"s":"TrajDist_iter3-pred","x":150,"y":0.0075},{"s":"TrajDist_iter3-pred","x":160,"y":0.008},{"s":"TrajDist_iter3-pred","x":170,"y":0.0085},{"s":"TrajDist_iter3-pred","x":180,"y":0.0113},{"s":"TrajDist_iter3-pred","x":190,"y":0.0108},{"s":"TrajDist_iter3-pred","x":200,"y":0.0153},{"s":"TrajDist_iter3-pred","x":210,"y":0.0181},{"s":"TrajDist_iter3-pred","x":220,"y":0.0175},{"s":"TrajDist_iter3-pred","x":230,"y":0.0187},{"s":"TrajDist_iter3-pred","x":240,"y":0.0209},{"s":"TrajDist_iter3-pred","x":250,"y":0.0192},{"s":"TrajDist_iter3-pred","x":260,"y":0.0215},{"s":"TrajDist_iter3-pred","x":270,"y":0.0231},{"s":"TrajDist_iter3-pred","x":280,"y":0.0237},{"s":"TrajDist_iter3-pred","x":290,"y":0.0243},{"s":"TrajDist_iter3-pred","x":300,"y":0.0248},{"s":"TrajDist_iter3-pred","x":310,"y":0.0231},{"s":"TrajDist_iter3-pred","x":320,"y":0.026},{"s":"TrajDist_iter3-pred","x":330,"y":0.022},{"s":"TrajDist_iter3-pred","x":340,"y":0.0248},{"s":"TrajDist_iter3-pred","x":350,"y":0.0231},{"s":"TrajDist_iter3-pred","x":360,"y":0.0243},{"s":"TrajDist_iter3-pred","x":370,"y":0.0265},{"s":"TrajDist_iter3-pred","x":380,"y":0.0243},{"s":"TrajDist_iter3-pred","x":390,"y":0.0231},{"s":"TrajDist_iter3-pred","x":400,"y":0.0282},{"s":"TrajDist_iter3-pred","x":410,"y":0.0265},{"s":"TrajDist_iter3-pred","x":420,"y":0.0293},{"s":"TrajDist_iter3-pred","x":430,"y":0.0276},{"s":"TrajDist_iter3-pred","x":440,"y":0.0282},{"s":"TrajDist_iter3-pred","x":450,"y":0.0304},{"s":"TrajDist_iter3-pred","x":460,"y":0.0271},{"s":"TrajDist_iter3-pred","x":470,"y":0.0299},{"s":"TrajDist_iter3-pred","x":480,"y":0.0276},{"s":"TrajDist_iter3-pred","x":490,"y":0.0293},{"s":"TrajDist_iter3-pred","x":500,"y":0.0271},{"s":"TrajDist_iter3-pred","x":510,"y":0.0254},{"s":"TrajDist_iter3-pred","x":520,"y":0.0288},{"s":"TrajDist_iter3-pred","x":530,"y":0.031},{"s":"TrajDist_iter3-pred","x":540,"y":0.0276},{"s":"TrajDist_iter3-pred","x":550,"y":0.0304},{"s":"TrajDist_iter3-pred","x":560,"y":0.0282},{"s":"TrajDist_iter3-pred","x":570,"y":0.0299},{"s":"TrajDist_iter3-pred","x":580,"y":0.0288},{"s":"TrajDist_iter3-pred","x":590,"y":0.0276},{"s":"TrajDist_iter3-pred","x":600,"y":0.0293},{"s":"TrajDist_iter3-pred","x":610,"y":0.0265},{"s":"TrajDist_iter3-pred","x":620,"y":0.0293},{"s":"TrajDist_iter3-pred","x":630,"y":0.031},{"s":"TrajDist_iter3-pred","x":640,"y":0.0282},{"s":"TrajDist_iter3-pred","x":650,"y":0.0321},{"s":"TrajDist_iter3-pred","x":660,"y":0.0293},{"s":"TrajDist_iter3-pred","x":670,"y":0.0304},{"s":"TrajDist_iter3-pred","x":680,"y":0.0282},{"s":"TrajDist_iter3-pred","x":690,"y":0.0316},{"s":"TrajDist_iter3-pred","x":700,"y":0.031},{"s":"TrajDist_iter3-pred","x":710,"y":0.0344},{"s":"TrajDist_iter3-pred","x":720,"y":0.0333},{"s":"TrajDist_iter3-pred","x":730,"y":0.031},{"s":"TrajDist_iter3-pred","x":740,"y":0.0299},{"s":"TrajDist_iter3-pred","x":750,"y":0.031},{"s":"TrajDist_iter3-pred","x":755,"y":0.0321}
]
},
"vconcat": [
  {
    "hconcat": [
      {
        "width": 255, "height": 185,
        "data": {"name": "p1"},
        "encoding": {
          "x": {"field": "x", "type": "quantitative", "scale": {"domain": [-4.45, 93.45], "nice": false, "zero": false}, "axis": {"values": [0,20,40,60,80], "title": "Steps", "titleFontSize": 16, "labelFontSize": 8.5, "labelPadding": 2, "titlePadding": 1}},
          "y": {"field": "y", "type": "quantitative", "scale": {"domain": [0.0645, 0.5595], "nice": false, "zero": false}, "axis": {"values": [0.1,0.2,0.3,0.4,0.5], "format": ".1f", "title": "Validation loss", "titleFontSize": 16, "labelFontSize": 8.5, "labelPadding": 2, "titlePadding": 5}},
          "color": {"field": "s", "type": "nominal", "scale": {"domain": ["Predictor_iter1","Predictor_iter2","Predictor_iter3"], "range": ["#FFA500","#FF0000","#008000"]}, "legend": {"legendX": 101, "legendY": 8, "labelFontSize": 13, "symbolSize": 196, "labelOffset": 24, "rowPadding": 6, "padding": 5}}
        },
        "layer": [
          {"transform": [{"filter": "datum.k == 'raw'"}], "mark": {"type": "line", "strokeWidth": 1.2, "opacity": 0.22}},
          {"transform": [{"filter": "datum.k == 'sm'"}], "mark": {"type": "line", "strokeWidth": 1.5}}
        ]
      },
      {
        "width": 261, "height": 189,
        "data": {"name": "p2"},
        "encoding": {
          "x": {"field": "x", "type": "quantitative", "scale": {"domain": [0, 380], "nice": false, "zero": false}, "axis": {"values": [0,50,100,150,200,250,300,350], "title": "Steps", "titleFontSize": 13, "labelFontSize": 7, "labelPadding": 2, "titlePadding": 2}},
          "y": {"field": "y", "type": "quantitative", "scale": {"domain": [-45, 330], "nice": false, "zero": false}, "axis": {"values": [0,50,100,150,200,250,300], "format": "d", "title": "Epoch task reward", "titleFontSize": 12.5, "labelFontSize": 7, "labelPadding": 2, "titlePadding": 3}},
          "color": {"field": "s", "type": "nominal", "scale": {"domain": ["EffDist","TrajDist_iter2","TrajDist_iter3","FastApp"], "range": ["#FF0000","#008000","#0000FF","#FFA500"]}, "legend": {"legendX": 143, "legendY": 117, "labelFontSize": 10, "symbolSize": 125, "labelOffset": 20, "rowPadding": 3.6, "padding": 4}}
        },
        "layer": [
          {"mark": {"type": "line", "strokeWidth": 4, "opacity": 0.2}},
          {"mark": {"type": "line", "strokeWidth": 1.2}}
        ]
      }
    ],
    "spacing": 45,
    "bounds": "flush",
    "resolve": {"scale": {"color": "independent", "x": "independent", "y": "independent"}, "legend": {"color": "independent"}}
  },
  {
    "hconcat": [
      {
        "width": 155, "height": 10,
        "data": {"values": [{"a": 0}]},
        "mark": {"type": "point", "size": 0, "opacity": 0},
        "view": {"stroke": null}
      },
      {
        "width": 253, "height": 187,
        "data": {"name": "p3"},
        "encoding": {
          "x": {"field": "x", "type": "quantitative", "scale": {"domain": [0, 757], "nice": false, "zero": false}, "axis": {"values": [0,100,200,300,400,500,600,700], "title": "Steps", "titleFontSize": 13.5, "labelFontSize": 6.8, "labelPadding": 2, "titlePadding": 1}},
          "y": {"field": "y", "type": "quantitative", "scale": {"domain": [-0.0129, 0.0501], "nice": false, "zero": false}, "axis": {"values": [-0.01,0,0.01,0.02,0.03,0.04], "format": ".2f", "title": "Legible reward", "titleFontSize": 14, "labelFontSize": 6.8, "labelPadding": 2, "titlePadding": 4}},
          "color": {"field": "s", "type": "nominal", "scale": {"domain": ["EffDist-pred","TrajDist_iter2-pred","TrajDist_iter3-pred"], "range": ["#FF0000","#008000","#0000FF"]}, "legend": {"legendX": 108, "legendY": 132, "labelFontSize": 10.6, "symbolSize": 125, "labelOffset": 19.5, "rowPadding": 1.5, "padding": 4}}
        },
        "layer": [
          {"mark": {"type": "line", "strokeWidth": 8, "opacity": 0.12}},
          {"mark": {"type": "line", "strokeWidth": 1.2}}
        ]
      }
    ],
    "spacing": 0,
    "bounds": "flush",
    "resolve": {"scale": {"color": "independent", "x": "independent", "y": "independent"}, "legend": {"color": "independent"}}
  }
],
"spacing": 9,
"resolve": {"scale": {"color": "independent", "x": "independent", "y": "independent"}, "legend": {"color": "independent"}}
}
